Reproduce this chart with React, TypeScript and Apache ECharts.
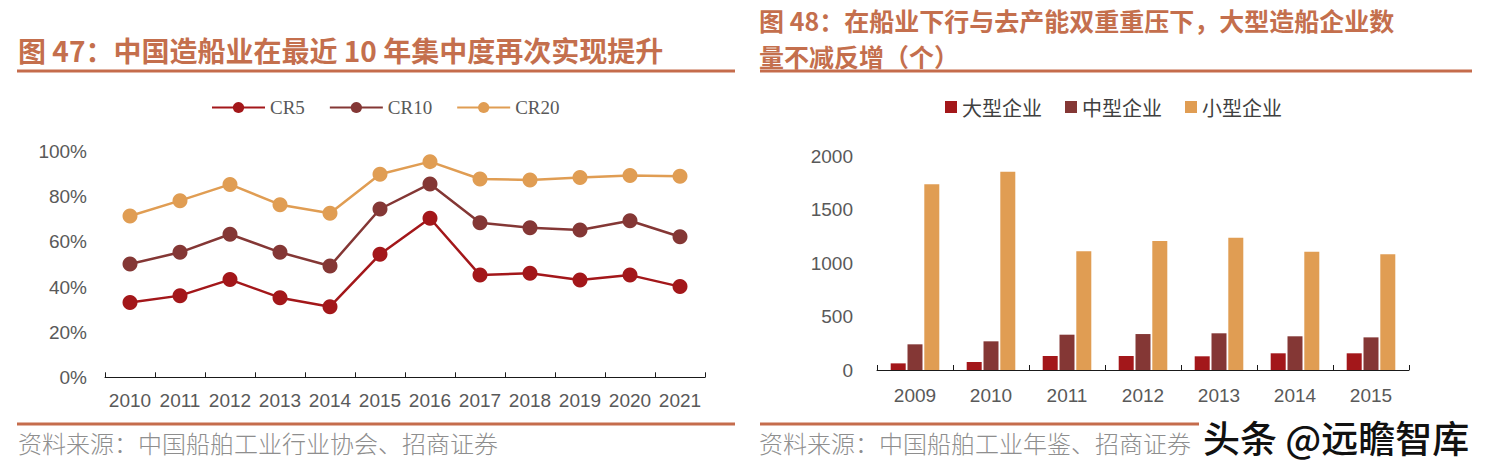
import React, { useEffect, useRef } from "react";
import * as echarts from "echarts";

const years1 = ["2010", "2011", "2012", "2013", "2014", "2015", "2016", "2017", "2018", "2019", "2020", "2021"];
const cr5 = [0.332, 0.362, 0.433, 0.353, 0.313, 0.545, 0.705, 0.453, 0.461, 0.431, 0.453, 0.402];
const cr10 = [0.502, 0.554, 0.634, 0.554, 0.493, 0.746, 0.857, 0.685, 0.663, 0.653, 0.694, 0.623];
const cr20 = [0.715, 0.783, 0.855, 0.765, 0.727, 0.9, 0.956, 0.879, 0.875, 0.886, 0.895, 0.891];

const years2 = ["2009", "2010", "2011", "2012", "2013", "2014", "2015"];
const large = [62, 75, 131, 131, 128, 156, 156];
const medium = [240, 268, 330, 336, 343, 315, 305];
const small = [1735, 1853, 1109, 1205, 1237, 1106, 1081];

const title1 = "图 47：中国造船业在最近 10 年集中度再次实现提升";
const title2a = "图 48：在船业下行与去产能双重重压下，大型造船企业数";
const title2b = "量不减反增（个）";
const source1 = "资料来源：中国船舶工业行业协会、招商证券";
const source2 = "资料来源：中国船舶工业年鉴、招商证券";
const watermark = "头条 @远瞻智库";

const C_RED = "#A3171A";
const C_BROWN = "#843735";
const C_ORANGE = "#E09D53";
const C_TITLE = "#C46F4D";
const C_LINE = "#C56C4C";
const C_TEXT = "#595959";
const SANS = "Liberation Sans, Arial, sans-serif";
const CJK = "Noto Sans CJK SC, sans-serif";

export default function App() {
  const ref = useRef<HTMLDivElement>(null);
  useEffect(() => {
    if (!ref.current) return;
    const chart = echarts.init(ref.current, undefined, { renderer: "svg" });
    const axisLine = { show: true, lineStyle: { color: "#1a1a1a", width: 1 } };
    const axisTick = { show: true, inside: true, length: 5, lineStyle: { color: "#1a1a1a" } };
    chart.setOption({
      animation: false,
      backgroundColor: "#fff",
      legend: [
        {
          left: 206,
          top: 93,
          itemWidth: 53,
          itemHeight: 14,
          itemGap: 24,
          data: ["CR5", "CR10", "CR20"],
          textStyle: { fontFamily: "Liberation Serif, serif", fontSize: 19, color: C_TEXT },
        },
        {
          left: 940,
          top: 92,
          itemWidth: 12,
          itemHeight: 12,
          itemGap: 23,
          icon: "rect",
          data: ["大型企业", "中型企业", "小型企业"],
          textStyle: { fontFamily: CJK, fontSize: 20, color: "#404040" },
        },
      ],
      grid: [
        { left: 105, right: 786, top: 151.7, bottom: 91.7 },
        { left: 877, right: 82, top: 156, bottom: 99 },
      ],
      xAxis: [
        {
          type: "category",
          gridIndex: 0,
          data: years1,
          boundaryGap: true,
          axisLine,
          axisTick: { ...axisTick, interval: 0 },
          axisLabel: { color: C_TEXT, fontSize: 19, fontFamily: SANS, margin: 14, interval: 0 },
        },
        {
          type: "category",
          gridIndex: 1,
          data: years2,
          boundaryGap: true,
          axisLine,
          axisTick: { ...axisTick, interval: 0 },
          axisLabel: { color: C_TEXT, fontSize: 19, fontFamily: SANS, margin: 16, interval: 0 },
        },
      ],
      yAxis: [
        {
          type: "value",
          gridIndex: 0,
          min: 0,
          max: 1,
          interval: 0.2,
          axisLine: { show: false },
          axisTick: { show: false },
          splitLine: { show: false },
          axisLabel: {
            color: C_TEXT,
            fontSize: 19,
            fontFamily: SANS,
            margin: 18,
            formatter: (v: number) => Math.round(v * 100) + "%",
          },
        },
        {
          type: "value",
          gridIndex: 1,
          min: 0,
          max: 2000,
          interval: 500,
          axisLine: { show: false },
          axisTick: { show: false },
          splitLine: { show: false },
          axisLabel: {
            color: C_TEXT,
            fontSize: 19,
            fontFamily: SANS,
            margin: 24,
            formatter: (v: number) => String(v),
          },
        },
      ],
      series: [
        { name: "CR5", data: cr5, color: C_RED },
        { name: "CR10", data: cr10, color: C_BROWN },
        { name: "CR20", data: cr20, color: C_ORANGE },
      ]
        .map((s) => ({
          type: "line",
          name: s.name,
          data: s.data,
          xAxisIndex: 0,
          yAxisIndex: 0,
          symbol: "circle",
          symbolSize: 15,
          lineStyle: { color: s.color, width: 2.5 },
          itemStyle: { color: s.color },
        }))
        .concat(
          [
            { name: "大型企业", data: large, color: C_RED },
            { name: "中型企业", data: medium, color: C_BROWN },
            { name: "小型企业", data: small, color: C_ORANGE },
          ].map((s) => ({
            type: "bar",
            name: s.name,
            data: s.data,
            xAxisIndex: 1,
            yAxisIndex: 1,
            barWidth: 15,
            barGap: "12%",
            itemStyle: { color: s.color },
          })) as any
        ),
      graphic: [
        {
          type: "text",
          left: 18,
          top: 36,
          style: { text: title1, fontSize: 28, fontWeight: "bold", fontFamily: CJK, fill: C_TITLE },
        },
        {
          type: "text",
          left: 759,
          top: 7,
          style: { text: title2a, fontSize: 25, fontWeight: "bold", fontFamily: CJK, fill: C_TITLE },
        },
        {
          type: "text",
          left: 759,
          top: 43.5,
          style: { text: title2b, fontSize: 25, fontWeight: "bold", fontFamily: CJK, fill: C_TITLE },
        },
        { type: "rect", shape: { x: 17, y: 69.5, width: 718, height: 3 }, style: { fill: C_LINE } },
        { type: "rect", shape: { x: 760, y: 69.5, width: 712, height: 3 }, style: { fill: C_LINE } },
        { type: "rect", shape: { x: 17, y: 422.5, width: 718, height: 3 }, style: { fill: C_LINE } },
        { type: "rect", shape: { x: 760, y: 422.5, width: 712, height: 3 }, style: { fill: C_LINE } },
        {
          type: "text",
          left: 18,
          top: 430,
          style: { text: source1, fontSize: 24, fontFamily: CJK, fontWeight: 300, fill: "#8e8e8e" },
        },
        {
          type: "text",
          left: 759,
          top: 430,
          style: { text: source2, fontSize: 24, fontFamily: CJK, fontWeight: 300, fill: "#8e8e8e" },
        },
        {
          type: "text",
          left: 1199,
          top: 418,
          z: 10,
          style: {
            text: watermark,
            fontSize: 37,
            fontFamily: CJK,
            fontWeight: 500,
            fill: "#111",
            backgroundColor: "#fff",
            padding: [0, 4, 0, 4],
          },
        },
      ],
    });
    return () => chart.dispose();
  }, []);
  return (
    <div
      ref={ref}
      style={{ position: "absolute", left: 0, top: 0, width: 1491, height: 469 }}
    />
  );
}
